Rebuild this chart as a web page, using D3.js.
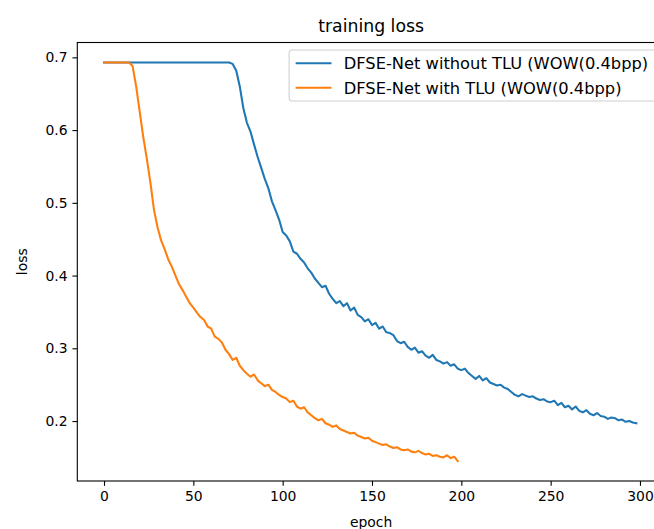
<!DOCTYPE html>
<html>
<head>
<meta charset="utf-8">
<script src="https://cdn.jsdelivr.net/npm/d3@7"></script>
<style>
  body { margin: 0; background: #fff; }
  text { font-family: "DejaVu Sans", sans-serif; fill: #000; }
</style>
</head>
<body>
<svg id="chart"></svg>
<script>
// Chart size matches the browser window
const width = 654;
const height = 529;

const STEP = 2;

const seriesNames = [
    "DFSE-Net without TLU (WOW(0.4bpp)",
    "DFSE-Net with TLU (WOW(0.4bpp)"
];
const seriesColors = ["#1f77b4", "#ff7f0e"];

// without TLU, epochs 0..298
const lossWithout = [
    0.693, 0.693, 0.693, 0.693, 0.693, 0.693, 0.693, 0.693, 0.693, 0.693,
    0.693, 0.693, 0.693, 0.693, 0.693, 0.693, 0.693, 0.693, 0.693, 0.693,
    0.693, 0.693, 0.693, 0.693, 0.693, 0.693, 0.693, 0.693, 0.693, 0.693,
    0.693, 0.693, 0.693, 0.693, 0.693, 0.693,
    0.691, 0.682, 0.660, 0.630, 0.610, 0.598, 0.580, 0.563, 0.548, 0.533,
    0.520, 0.502, 0.490, 0.477, 0.460, 0.455, 0.447, 0.433, 0.430, 0.423,
    0.418, 0.410, 0.404, 0.396, 0.390, 0.384, 0.386, 0.375, 0.368, 0.362,
    0.365, 0.358, 0.362, 0.352, 0.356, 0.346, 0.343, 0.337, 0.340, 0.332,
    0.335, 0.327, 0.330, 0.322, 0.321, 0.318, 0.310, 0.307, 0.309, 0.302,
    0.298, 0.301, 0.294, 0.296, 0.290, 0.287, 0.291, 0.284, 0.282, 0.279,
    0.281, 0.276, 0.278, 0.272, 0.270, 0.272, 0.266, 0.262, 0.258, 0.262,
    0.256, 0.259, 0.253, 0.251, 0.249, 0.250, 0.246, 0.244, 0.240, 0.236,
    0.234, 0.237, 0.235, 0.233, 0.234, 0.231, 0.229, 0.230, 0.227, 0.226,
    0.228, 0.222, 0.225, 0.219, 0.221, 0.216, 0.220, 0.214, 0.212, 0.215,
    0.210, 0.208, 0.211, 0.207, 0.206, 0.203, 0.205, 0.204, 0.201, 0.202,
    0.199, 0.200, 0.198, 0.197
];

// with TLU, epochs 0..198
const lossWith = [
    0.693, 0.693, 0.693, 0.693, 0.693, 0.693, 0.693, 0.693,
    0.688, 0.660, 0.625, 0.590, 0.560, 0.527, 0.490, 0.466, 0.448, 0.436,
    0.422, 0.412, 0.400, 0.388, 0.380, 0.371, 0.362, 0.356, 0.349, 0.343,
    0.339, 0.330, 0.327, 0.316, 0.313, 0.308, 0.298, 0.292, 0.284, 0.287,
    0.276, 0.270, 0.265, 0.261, 0.264, 0.256, 0.252, 0.248, 0.250, 0.243,
    0.240, 0.236, 0.233, 0.231, 0.226, 0.228, 0.220, 0.217, 0.219, 0.212,
    0.208, 0.204, 0.201, 0.203, 0.197, 0.195, 0.192, 0.194, 0.189, 0.187,
    0.185, 0.183, 0.184, 0.180, 0.178, 0.176, 0.177, 0.173, 0.171, 0.169,
    0.167, 0.168, 0.165, 0.163, 0.164, 0.161, 0.160, 0.161, 0.158, 0.157,
    0.159, 0.156, 0.154, 0.155, 0.152, 0.153, 0.151, 0.150, 0.153, 0.149,
    0.151, 0.145
];

const xTicks = [0, 50, 100, 150, 200, 250, 300];
const yTicks = [0.2, 0.3, 0.4, 0.5, 0.6, 0.7];

const series = [lossWithout, lossWith].map((vals, i) => ({
    name: seriesNames[i],
    color: seriesColors[i],
    points: vals.map((v, j) => ({ epoch: j * STEP, loss: v }))
}));

// Plot area (matplotlib-like axes box; right edge runs past the window)
const margin = { left: 77.3, top: 42.5, right: 664.9, bottom: 481 };

const svg = d3.select("#chart")
    .attr("width", width)
    .attr("height", height);

// matplotlib default 5% margins on the data range
const allPts = series.flatMap(s => s.points);
const [x0, x1] = d3.extent(allPts, d => d.epoch);
const [y0, y1] = d3.extent(allPts, d => d.loss);
const xPad = (x1 - x0 + 1) * 0.05, yPad = (y1 - y0) * 0.05;

const x = d3.scaleLinear().domain([x0 - xPad, x1 + 1 + xPad]).range([margin.left, margin.right]);
const y = d3.scaleLinear().domain([y0 - yPad, y1 + yPad]).range([margin.bottom, margin.top]);

const fontSize = 13.9;
const legendFont = 16.3;

// Lines
const line = d3.line().x(d => x(d.epoch)).y(d => y(d.loss));
svg.selectAll(".series")
    .data(series)
    .enter()
    .append("path")
    .attr("class", "series")
    .attr("d", d => line(d.points))
    .attr("fill", "none")
    .attr("stroke", d => d.color)
    .attr("stroke-width", 2.08)
    .attr("stroke-linejoin", "round")
    .attr("stroke-linecap", "square");

// Axes
const xAxis = svg.append("g")
    .attr("transform", `translate(0,${margin.bottom})`)
    .call(d3.axisBottom(x).tickValues(xTicks).tickSize(4.86).tickPadding(4.86).tickSizeOuter(0));
const yAxis = svg.append("g")
    .attr("transform", `translate(${margin.left},0)`)
    .call(d3.axisLeft(y).tickValues(yTicks).tickFormat(d3.format(".1f")).tickSize(4.86).tickPadding(4.86).tickSizeOuter(0));

[xAxis, yAxis].forEach(g => {
    g.select(".domain").remove();
    g.selectAll(".tick line").attr("stroke", "#000").attr("stroke-width", 1.1);
    g.selectAll(".tick text")
        .attr("font-family", "DejaVu Sans")
        .attr("font-size", fontSize)
        .attr("fill", "#000");
});

// Axes frame
svg.append("rect")
    .attr("x", margin.left)
    .attr("y", margin.top)
    .attr("width", margin.right - margin.left)
    .attr("height", margin.bottom - margin.top)
    .attr("fill", "none")
    .attr("stroke", "#000")
    .attr("stroke-width", 1.1);

// Title and axis labels
const midX = (margin.left + margin.right) / 2;
svg.append("text")
    .attr("x", midX)
    .attr("y", 31.5)
    .attr("text-anchor", "middle")
    .attr("font-size", 17.3)
    .text("training loss");

svg.append("text")
    .attr("x", midX)
    .attr("y", 527)
    .attr("text-anchor", "middle")
    .attr("font-size", fontSize)
    .text("epoch");

svg.append("text")
    .attr("transform", `translate(27,${(margin.top + margin.bottom) / 2}) rotate(-90)`)
    .attr("text-anchor", "middle")
    .attr("font-size", fontSize)
    .text("loss");

// Legend (upper right)
const legend = svg.append("g");
const borderPad = 0.4 * legendFont, handleLen = 2.2 * legendFont, handlePad = 0.75 * legendFont;
const rowH = 24.4;

const labels = legend.selectAll("text")
    .data(series)
    .enter()
    .append("text")
    .attr("font-size", legendFont)
    .text(d => d.name);
const textW = d3.max(labels.nodes(), n => n.getComputedTextLength());

const boxW = borderPad * 2 + handleLen + handlePad + textW + 2;
const boxH = 51;
const boxRight = margin.right - 0.5 * legendFont;
const boxLeft = boxRight - boxW;
const boxTop = 50;
const rowY = i => boxTop + 13.3 + rowH * i;

legend.insert("rect", "text")
    .attr("x", boxLeft)
    .attr("y", boxTop)
    .attr("width", boxW)
    .attr("height", boxH)
    .attr("rx", 3)
    .attr("fill", "rgba(255,255,255,0.8)")
    .attr("stroke", "#d0d0d0")
    .attr("stroke-width", 1.1);

labels
    .attr("x", boxLeft + borderPad + handleLen + handlePad)
    .attr("y", (d, i) => rowY(i) + 5.9);

legend.selectAll("line")
    .data(series)
    .enter()
    .append("line")
    .attr("x1", boxLeft + borderPad)
    .attr("x2", boxLeft + borderPad + handleLen)
    .attr("y1", (d, i) => rowY(i))
    .attr("y2", (d, i) => rowY(i))
    .attr("stroke", d => d.color)
    .attr("stroke-width", 2.08);
</script>
</body>
</html>
